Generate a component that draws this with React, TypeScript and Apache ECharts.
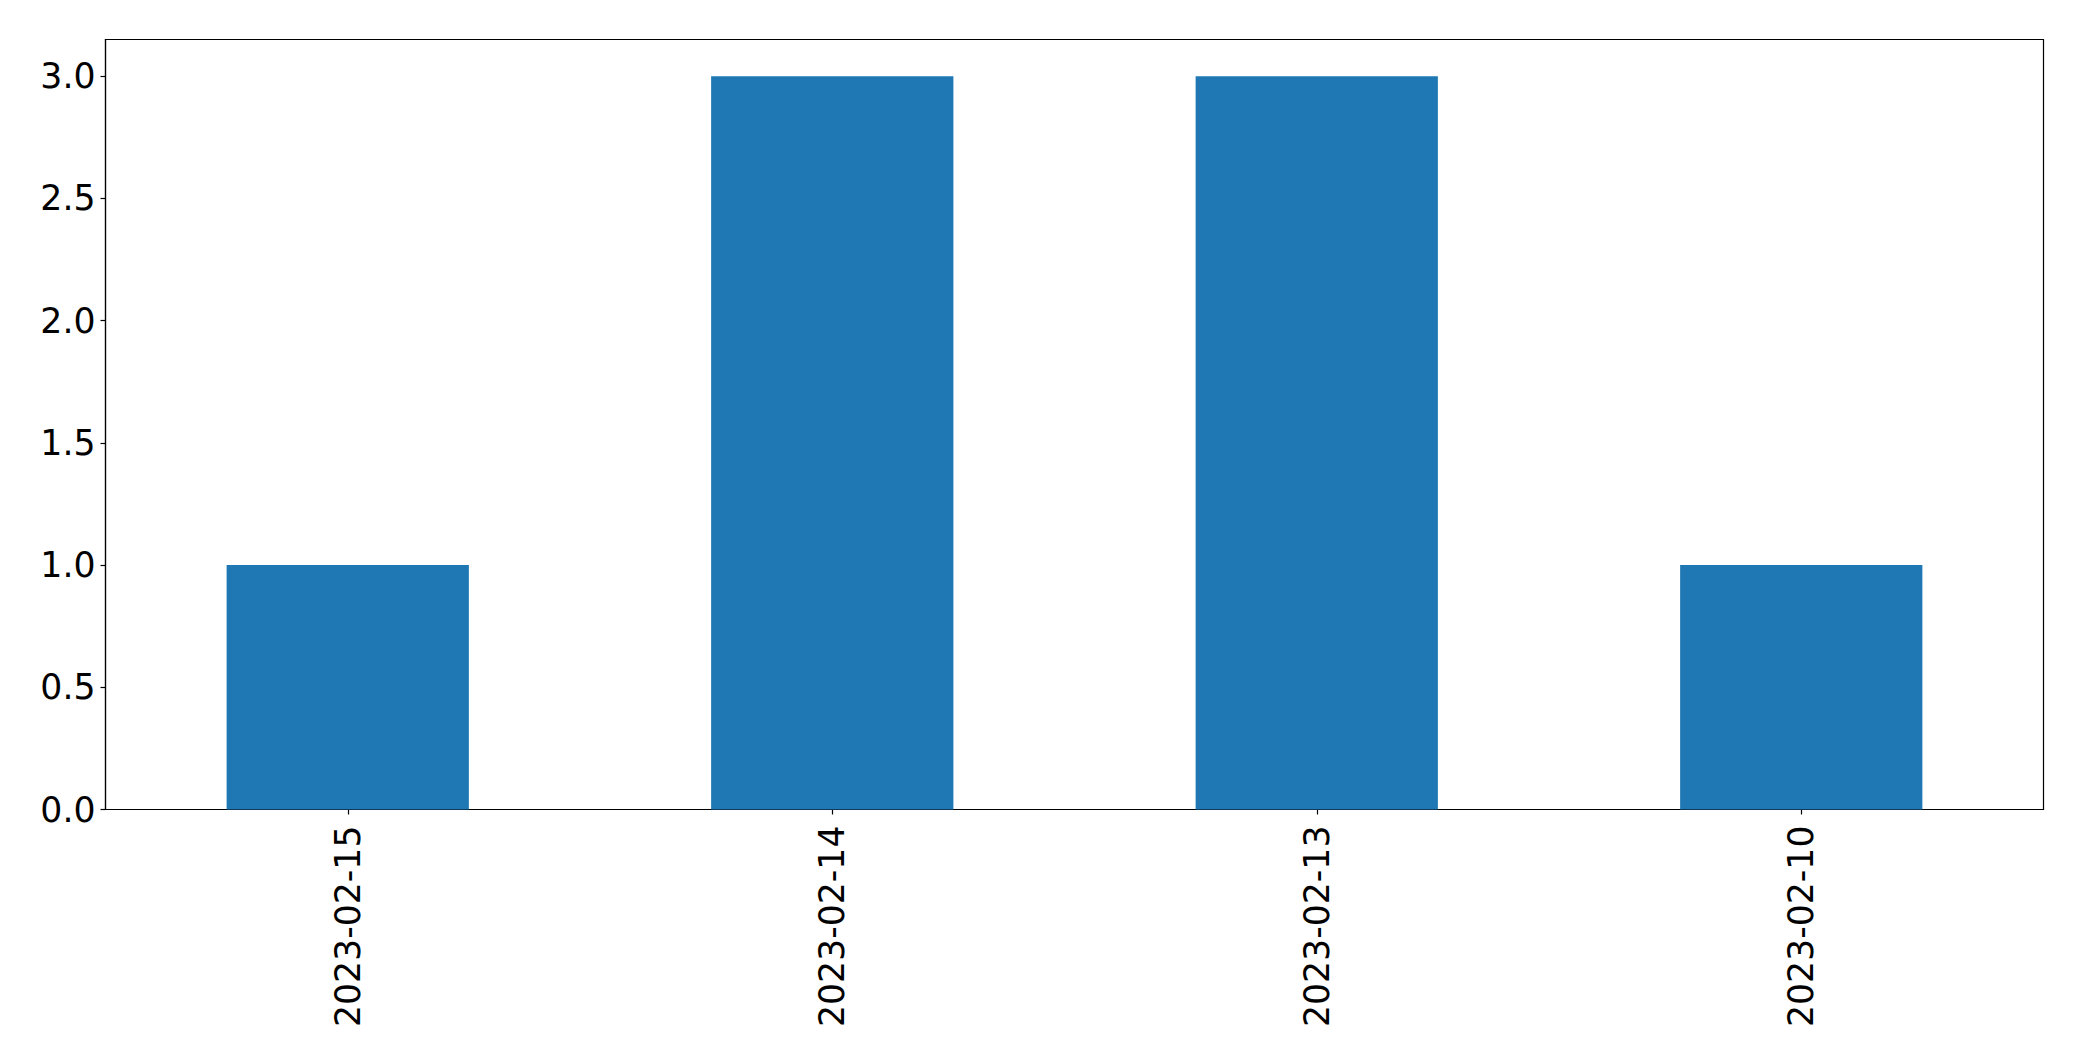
import React, { useEffect, useRef } from "react";
import * as echarts from "echarts";

const categories = ["2023-02-15", "2023-02-14", "2023-02-13", "2023-02-10"];
const values = [1, 3, 3, 1];
const yTicks = [0, 0.5, 1, 1.5, 2, 2.5, 3];

export default function App() {
  const ref = useRef<HTMLDivElement>(null);
  useEffect(() => {
    if (!ref.current) return;
    const chart = echarts.init(ref.current, null, { renderer: "svg" });
    const font = "DejaVu Sans";
    chart.setOption({
      animation: false,
      backgroundColor: "#ffffff",
      grid: {
        left: 105.5,
        top: 39.5,
        right: 38.5,
        bottom: 251.5,
        show: true,
        borderColor: "#000000",
        borderWidth: 1.2,
        backgroundColor: "transparent",
      },
      xAxis: {
        type: "category",
        data: categories,
        boundaryGap: true,
        axisLine: { show: true, lineStyle: { color: "#000000", width: 1.2 } },
        axisTick: { show: true, alignWithLabel: true, length: 5, lineStyle: { color: "#000000", width: 1.2 } },
        axisLabel: {
          rotate: 90,
          margin: 16,
          color: "#000000",
          fontFamily: font,
          fontSize: 34.7,
        },
        splitLine: { show: false },
      },
      yAxis: {
        type: "value",
        min: 0,
        max: 3.15,
        interval: 0.5,
        axisLine: { show: true, lineStyle: { color: "#000000", width: 1.2 } },
        axisTick: {
          show: true,
          length: 5,
          customValues: yTicks,
          lineStyle: { color: "#000000", width: 1.2 },
        },
        axisLabel: {
          margin: 10,
          color: "#000000",
          fontFamily: font,
          fontSize: 34.7,
          customValues: yTicks,
          formatter: (v: number) => v.toFixed(1),
        },
        splitLine: { show: false },
      },
      series: [
        {
          type: "bar",
          data: values,
          barWidth: "50%",
          itemStyle: { color: "#1f77b4" },
        },
      ],
    });
    return () => chart.dispose();
  }, []);
  return (
    <div
      ref={ref}
      style={{ position: "fixed", left: 0, top: 0, width: 2082, height: 1061, background: "#fff" }}
    />
  );
}
